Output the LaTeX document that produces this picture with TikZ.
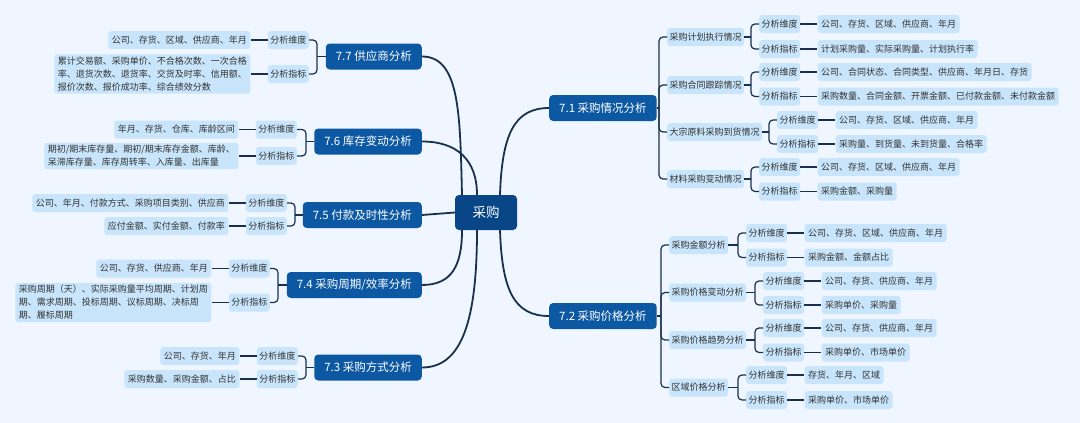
\documentclass[tikz,border=0pt]{standalone}
\usepackage{fontspec}
\setmainfont{Noto Sans CJK SC}
\usetikzlibrary{positioning}
\definecolor{bgblue}{RGB}{239,246,255}
\definecolor{leafblue}{RGB}{200,229,251}
\definecolor{topicblue}{RGB}{12,88,163}
\definecolor{rootblue}{RGB}{8,70,136}
\definecolor{linecol}{RGB}{24,48,78}
\definecolor{textcol}{RGB}{51,51,51}

\begin{document}
\begin{tikzpicture}[
  x=1pt, y=-1pt,
  node distance=17pt,
  rootbox/.style={fill=rootblue, rounded corners=4pt, text=white, minimum width=62pt,
    minimum height=35pt, font=\fontsize{13.5}{16}\selectfont},
  topicbox/.style={fill=topicblue, rounded corners=4pt, text=white, inner xsep=10pt,
    minimum height=26pt, font=\fontsize{11.5}{14}\selectfont},
  subbox/.style={fill=leafblue, rounded corners=3pt, text=textcol, inner xsep=2.5pt,
    inner ysep=2.5pt, minimum height=18pt, font=\fontsize{9}{13}\selectfont},
  tagbox/.style={subbox},
  leafbox/.style={subbox, inner xsep=3.5pt, align=left},
  link/.style={draw=linecol, line width=1.2pt},
  bus/.style={link, rounded corners=4pt},
  branch/.style={draw=linecol, line width=1.8pt}
]
\fill[bgblue] (0,0) rectangle (1080,423);
\useasboundingbox (0,0) rectangle (1080,423);

% centre
\node[rootbox] (root) at (486,212.5) {采购};

% left side
\node[topicbox, anchor=east] (t77) at (422,56.5) {7.7 供应商分析};
\node[tagbox, anchor=east] (d77) at (309,40) {分析维度};
\node[tagbox, anchor=east] (m77) at (309,74) {分析指标};
\node[leafbox, left=of d77] (e77d) {公司、存货、区域、供应商、年月};
\node[leafbox, left=of m77] (e77m) {累计交易额、采购单价、不合格次数、一次合格\\率、退货次数、退货率、交货及时率、信用额、\\报价次数、报价成功率、综合绩效分数};

\node[topicbox, anchor=east] (t76) at (422,141.5) {7.6 库存变动分析};
\node[tagbox, anchor=east] (d76) at (297,129.5) {分析维度};
\node[tagbox, anchor=east] (m76) at (297,156) {分析指标};
\node[leafbox, left=of d76] (e76d) {年月、存货、仓库、库龄区间};
\node[leafbox, left=of m76] (e76m) {期初/期末库存量、期初/期末库存金额、库龄、\\呆滞库存量、库存周转率、入库量、出库量};

\node[topicbox, anchor=east] (t75) at (422,215) {7.5 付款及时性分析};
\node[tagbox, anchor=east] (d75) at (287,203) {分析维度};
\node[tagbox, anchor=east] (m75) at (287,226) {分析指标};
\node[leafbox, left=of d75] (e75d) {公司、年月、付款方式、采购项目类别、供应商};
\node[leafbox, left=of m75] (e75m) {应付金额、实付金额、付款率};

\node[topicbox, anchor=east] (t74) at (422,285) {7.4 采购周期/效率分析};
\node[tagbox, anchor=east] (d74) at (270,268.5) {分析维度};
\node[tagbox, anchor=east] (m74) at (270,302.5) {分析指标};
\node[leafbox, left=of d74] (e74d) {公司、存货、供应商、年月};
\node[leafbox, left=of m74] (e74m) {采购周期（天）、实际采购量平均周期、计划周\\期、需求周期、投标周期、议标周期、决标周\\期、履标周期};

\node[topicbox, anchor=east] (t73) at (422,367.5) {7.3 采购方式分析};
\node[tagbox, anchor=east] (d73) at (298,356) {分析维度};
\node[tagbox, anchor=east] (m73) at (298,379) {分析指标};
\node[leafbox, left=of d73] (e73d) {公司、存货、年月};
\node[leafbox, left=of m73] (e73m) {采购数量、采购金额、占比};

% right side
\node[topicbox, anchor=west] (t71) at (549,108) {7.1 采购情况分析};
\node[subbox, anchor=west] (s711) at (667,37) {采购计划执行情况};
\node[tagbox, anchor=west] (d711) at (759,24) {分析维度};
\node[tagbox, anchor=west] (m711) at (759,49) {分析指标};
\node[leafbox, right=of d711] (e711d) {公司、存货、区域、供应商、年月};
\node[leafbox, right=of m711] (e711m) {计划采购量、实际采购量、计划执行率};
\node[subbox, anchor=west] (s712) at (667,85) {采购合同跟踪情况};
\node[tagbox, anchor=west] (d712) at (759,72) {分析维度};
\node[tagbox, anchor=west] (m712) at (759,96.5) {分析指标};
\node[leafbox, right=of d712] (e712d) {公司、合同状态、合同类型、供应商、年月日、存货};
\node[leafbox, right=of m712] (e712m) {采购数量、合同金额、开票金额、已付款金额、未付款金额};
\node[subbox, anchor=west] (s713) at (667,132) {大宗原料采购到货情况};
\node[tagbox, anchor=west] (d713) at (777,120) {分析维度};
\node[tagbox, anchor=west] (m713) at (777,144) {分析指标};
\node[leafbox, right=of d713] (e713d) {公司、存货、区域、供应商、年月};
\node[leafbox, right=of m713] (e713m) {采购量、到货量、未到货量、合格率};
\node[subbox, anchor=west] (s714) at (667,179) {材料采购变动情况};
\node[tagbox, anchor=west] (d714) at (759,167) {分析维度};
\node[tagbox, anchor=west] (m714) at (759,191.5) {分析指标};
\node[leafbox, right=of d714] (e714d) {公司、存货、区域、供应商、年月};
\node[leafbox, right=of m714] (e714m) {采购金额、采购量};

\node[topicbox, anchor=west] (t72) at (549,316) {7.2 采购价格分析};
\node[subbox, anchor=west] (s721) at (669,245) {采购金额分析};
\node[tagbox, anchor=west] (d721) at (746,233) {分析维度};
\node[tagbox, anchor=west] (m721) at (746,257.5) {分析指标};
\node[leafbox, right=of d721] (e721d) {公司、存货、区域、供应商、年月};
\node[leafbox, right=of m721] (e721m) {采购金额、金额占比};
\node[subbox, anchor=west] (s722) at (669,292.5) {采购价格变动分析};
\node[tagbox, anchor=west] (d722) at (763,281) {分析维度};
\node[tagbox, anchor=west] (m722) at (763,305) {分析指标};
\node[leafbox, right=of d722] (e722d) {公司、存货、供应商、年月};
\node[leafbox, right=of m722] (e722m) {采购单价、采购量};
\node[subbox, anchor=west] (s723) at (669,340) {采购价格趋势分析};
\node[tagbox, anchor=west] (d723) at (763,328) {分析维度};
\node[tagbox, anchor=west] (m723) at (763,352.5) {分析指标};
\node[leafbox, right=of d723] (e723d) {公司、存货、供应商、年月};
\node[leafbox, right=of m723] (e723m) {采购单价、市场单价};
\node[subbox, anchor=west] (s724) at (669,387.5) {区域价格分析};
\node[tagbox, anchor=west] (d724) at (746,375) {分析维度};
\node[tagbox, anchor=west] (m724) at (746,400) {分析指标};
\node[leafbox, right=of d724] (e724d) {存货、年月、区域};
\node[leafbox, right=of m724] (e724m) {采购单价、市场单价};

% bus points
\coordinate (k77) at (317,56.5);
\coordinate (k76) at (306,141.5);
\coordinate (k75) at (295,215);
\coordinate (k74) at (278,285);
\coordinate (k73) at (306,367.5);
\coordinate (k71) at (659,108);
\coordinate (k72) at (661,316);
\coordinate (k711) at (751,37);
\coordinate (k712) at (751,85);
\coordinate (k713) at (769,132);
\coordinate (k714) at (751,179);
\coordinate (k721) at (738,245);
\coordinate (k722) at (755,292.5);
\coordinate (k723) at (755,340);
\coordinate (k724) at (738,387.5);

% branches from the centre
\draw[branch] ([xshift=-24pt]root.north) .. controls +(-2,-80) and +(38,0) .. (t77.east);
\draw[branch] ([xshift=-9pt]root.north) .. controls +(0,-35) and +(35,0) .. (t76.east);
\draw[branch] ([xshift=14pt]root.north) .. controls +(2,-60) and +(-35,0) .. (t71.west);
\draw[branch] (root.west) -- (t75.east);
\draw[branch] ([xshift=-24pt]root.south) .. controls +(0,35) and +(30,0) .. (t74.east);
\draw[branch] ([xshift=-9pt]root.south) .. controls +(0,90) and +(40,0) .. (t73.east);
\draw[branch] ([xshift=14pt]root.south) .. controls +(2,60) and +(-35,0) .. (t72.west);

% left topics
\draw[link] (t77.west) -- (k77);
\draw[bus] (k77) |- (d77.east);
\draw[bus] (k77) |- (m77.east);
\draw[link] (d77) -- (e77d);
\draw[link] (m77) -- (e77m);
\draw[link] (t76.west) -- (k76);
\draw[bus] (k76) |- (d76.east);
\draw[bus] (k76) |- (m76.east);
\draw[link] (d76) -- (e76d);
\draw[link] (m76) -- (e76m);
\draw[link] (t75.west) -- (k75);
\draw[bus] (k75) |- (d75.east);
\draw[bus] (k75) |- (m75.east);
\draw[link] (d75) -- (e75d);
\draw[link] (m75) -- (e75m);
\draw[link] (t74.west) -- (k74);
\draw[bus] (k74) |- (d74.east);
\draw[bus] (k74) |- (m74.east);
\draw[link] (d74) -- (e74d);
\draw[link] (m74) -- (e74m);
\draw[link] (t73.west) -- (k73);
\draw[bus] (k73) |- (d73.east);
\draw[bus] (k73) |- (m73.east);
\draw[link] (d73) -- (e73d);
\draw[link] (m73) -- (e73m);

% 7.1
\draw[link] (t71.east) -- (k71);
\draw[bus] (k71) |- (s711.west);
\draw[bus] (k71) |- (s712.west);
\draw[bus] (k71) |- (s713.west);
\draw[bus] (k71) |- (s714.west);
\draw[link] (s711.east) -- (k711);
\draw[bus] (k711) |- (d711.west);
\draw[bus] (k711) |- (m711.west);
\draw[link] (d711) -- (e711d);
\draw[link] (m711) -- (e711m);
\draw[link] (s712.east) -- (k712);
\draw[bus] (k712) |- (d712.west);
\draw[bus] (k712) |- (m712.west);
\draw[link] (d712) -- (e712d);
\draw[link] (m712) -- (e712m);
\draw[link] (s713.east) -- (k713);
\draw[bus] (k713) |- (d713.west);
\draw[bus] (k713) |- (m713.west);
\draw[link] (d713) -- (e713d);
\draw[link] (m713) -- (e713m);
\draw[link] (s714.east) -- (k714);
\draw[bus] (k714) |- (d714.west);
\draw[bus] (k714) |- (m714.west);
\draw[link] (d714) -- (e714d);
\draw[link] (m714) -- (e714m);

% 7.2
\draw[link] (t72.east) -- (k72);
\draw[bus] (k72) |- (s721.west);
\draw[bus] (k72) |- (s722.west);
\draw[bus] (k72) |- (s723.west);
\draw[bus] (k72) |- (s724.west);
\draw[link] (s721.east) -- (k721);
\draw[bus] (k721) |- (d721.west);
\draw[bus] (k721) |- (m721.west);
\draw[link] (d721) -- (e721d);
\draw[link] (m721) -- (e721m);
\draw[link] (s722.east) -- (k722);
\draw[bus] (k722) |- (d722.west);
\draw[bus] (k722) |- (m722.west);
\draw[link] (d722) -- (e722d);
\draw[link] (m722) -- (e722m);
\draw[link] (s723.east) -- (k723);
\draw[bus] (k723) |- (d723.west);
\draw[bus] (k723) |- (m723.west);
\draw[link] (d723) -- (e723d);
\draw[link] (m723) -- (e723m);
\draw[link] (s724.east) -- (k724);
\draw[bus] (k724) |- (d724.west);
\draw[bus] (k724) |- (m724.west);
\draw[link] (d724) -- (e724d);
\draw[link] (m724) -- (e724m);
\end{tikzpicture}
\end{document}
